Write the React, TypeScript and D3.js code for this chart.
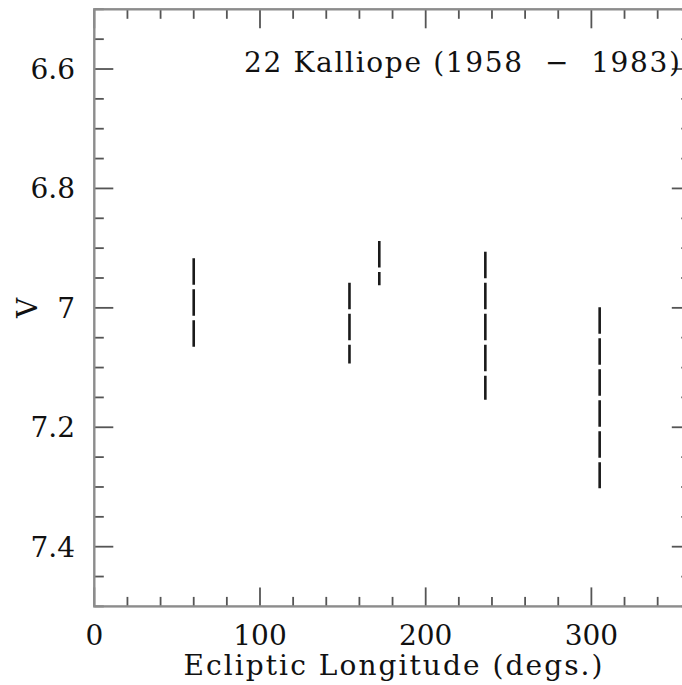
import React from "react";
import * as d3 from "d3";

const longitudes = [60, 154, 172, 236, 305];
const vTop = [6.917, 6.958, 6.888, 6.906, 6.999];
const vBottom = [7.065, 7.093, 6.962, 7.154, 7.302];
const xMajorTicks = [0, 100, 200, 300];
const yMajorTicks = [6.6, 6.8, 7.0, 7.2, 7.4];
const yTickLabels = ["6.6", "6.8", "7", "7.2", "7.4"];
const titleText = "22 Kalliope (1958  \u2212  1983)";
const xLabel = "Ecliptic Longitude (degs.)";
const yLabel = "V";

const W = 682;
const H = 685;

export default function App() {
  const x = d3.scaleLinear().domain([0, 360]).range([94.3, 690.8]);
  const y = d3.scaleLinear().domain([6.5, 7.5]).range([9.3, 606.4]);
  const xMinor = d3.range(0, 361, 20);
  const yMinor = d3.range(0, 21).map((i) => 6.5 + i * 0.05);
  const font = "DejaVu Serif";
  const tickColor = "#555";
  const frameColor = "#8c8c8c";
  const x0 = x(0), x1 = x(360), y0 = y(7.5), y1 = y(6.5);
  const isMajorX = (v: number) => Math.abs(v % 100) < 1e-6;
  const isMajorY = (v: number) => Math.abs(Math.round(v * 10) - v * 10) < 1e-6 && Math.round(v * 10) % 2 === 0;
  const fs = 28;
  return (
    <svg width={W} height={H} style={{ position: "absolute", left: 0, top: 0, background: "#fff" }}>
      <rect x={0} y={0} width={W} height={H} fill="#fff" />
      {xMinor.map((v, i) => {
        const len = isMajorX(v) ? 19 : 9.5;
        return (
          <g key={"xt" + i}>
            <line x1={x(v)} x2={x(v)} y1={y0} y2={y0 - len} stroke={tickColor} strokeWidth={1.8} />
            <line x1={x(v)} x2={x(v)} y1={y1} y2={y1 + len} stroke={tickColor} strokeWidth={1.8} />
          </g>
        );
      })}
      {yMinor.map((v, i) => {
        const len = isMajorY(v) ? 19 : 9.5;
        return (
          <g key={"yt" + i}>
            <line x1={x0} x2={x0 + len} y1={y(v)} y2={y(v)} stroke={tickColor} strokeWidth={1.8} />
            <line x1={x1} x2={x1 - len} y1={y(v)} y2={y(v)} stroke={tickColor} strokeWidth={1.8} />
          </g>
        );
      })}
      <rect x={x0} y={y1} width={x1 - x0} height={y0 - y1} fill="none" stroke={frameColor} strokeWidth={2.4} />
      {longitudes.map((lon, i) => (
        <line
          key={"d" + i}
          x1={x(lon)}
          x2={x(lon)}
          y1={y(vTop[i])}
          y2={y(vBottom[i])}
          stroke="#1a1a1a"
          strokeWidth={2.6}
          strokeDasharray="26.5 4.5"
        />
      ))}
      {xMajorTicks.map((v, i) => (
        <text key={"xl" + i} x={x(v)} y={645} textAnchor="middle" fontFamily={font} fontSize={fs} fill="#111">
          {String(v)}
        </text>
      ))}
      {yMajorTicks.map((v, i) => (
        <text key={"yl" + i} x={75} y={y(v) + 10} textAnchor="end" fontFamily={font} fontSize={fs} fill="#111">
          {yTickLabels[i]}
        </text>
      ))}
      <text x={393} y={675} textAnchor="middle" fontFamily={font} fontSize={fs} fill="#111" textLength={419} lengthAdjust="spacing">
        {xLabel}
      </text>
      <text transform={`translate(37, ${y(7.0)}) rotate(-90)`} textAnchor="middle" fontFamily={font} fontSize={fs} fill="#111">
        {yLabel}
      </text>
      <text x={244} y={72} fontFamily={font} fontSize={fs} fill="#111" textLength={436} lengthAdjust="spacing" style={{ whiteSpace: "pre" }}>
        {titleText}
      </text>
    </svg>
  );
}
